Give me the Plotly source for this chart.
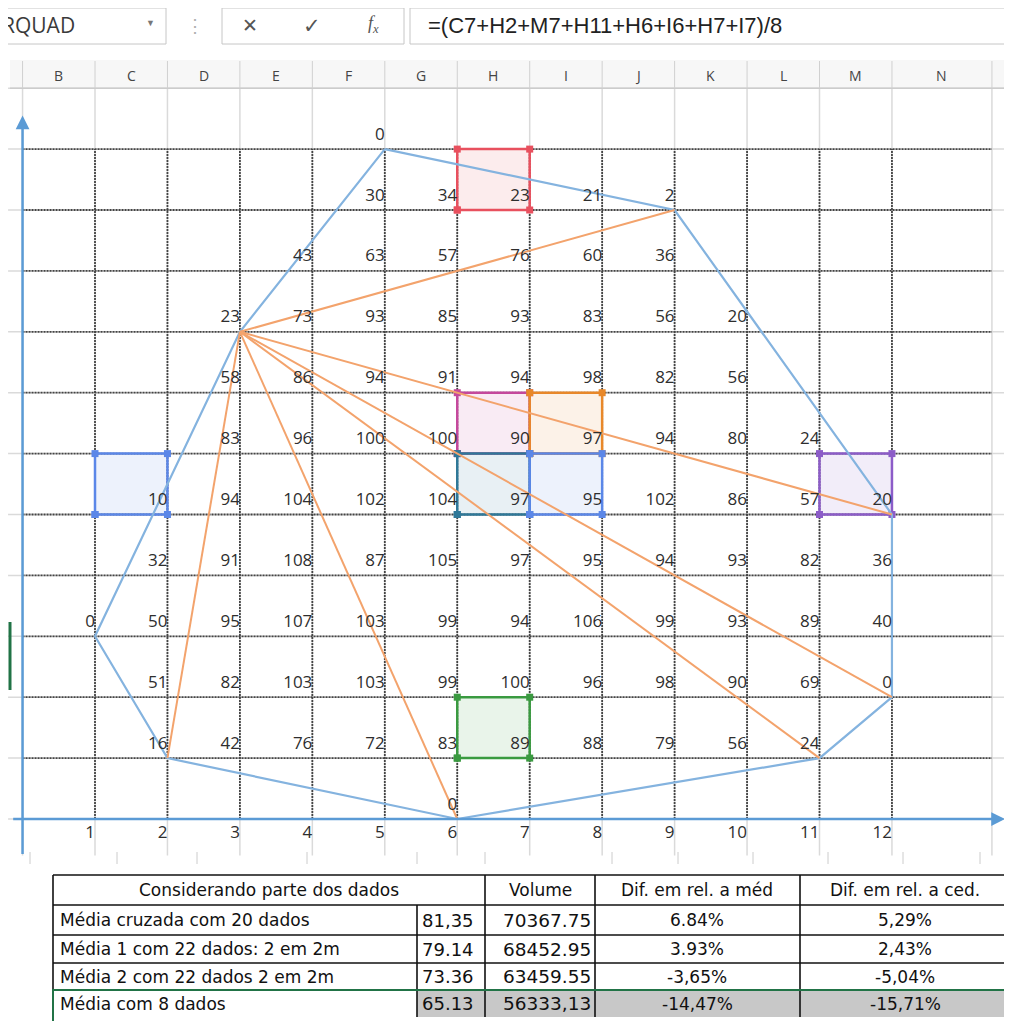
import re
import plotly.graph_objects as go

# the page body has an 8px margin, so the figure is drawn 8px smaller
OFF = 8
W, H = 1012 - OFF, 1021 - OFF
X_RANGE = [-0.2008, 13.657]
Y_RANGE = [-3.317, 13.317]
CHART_RIGHT = 13.38  # right border of column N

# ---- values read from the sheet ----
name_box = "RQUAD"
formula = "=(C7+H2+M7+H11+H6+I6+H7+I7)/8"
col_letters = ["B", "C", "D", "E", "F", "G", "H", "I", "J", "K", "L", "M", "N"]
x_ticks = [1, 2, 3, 4, 5, 6, 7, 8, 9, 10, 11, 12]
y_lines = [1, 2, 3, 4, 5, 6, 7, 8, 9, 10, 11]

# rows 1..12, columns B..M (None = empty cell)
N = None
cells = [
    [N, N, N, N, 0, N, N, N, N, N, N, N],
    [N, N, N, N, 30, 34, 23, 21, 2, N, N, N],
    [N, N, N, 43, 63, 57, 76, 60, 36, N, N, N],
    [N, N, 23, 73, 93, 85, 93, 83, 56, 20, N, N],
    [N, N, 58, 86, 94, 91, 94, 98, 82, 56, N, N],
    [N, N, 83, 96, 100, 100, 90, 97, 94, 80, 24, N],
    [N, 10, 94, 104, 102, 104, 97, 95, 102, 86, 57, 20],
    [N, 32, 91, 108, 87, 105, 97, 95, 94, 93, 82, 36],
    [0, 50, 95, 107, 103, 99, 94, 106, 99, 93, 89, 40],
    [N, 51, 82, 103, 103, 99, 100, 96, 98, 90, 69, 0],
    [N, 16, 42, 76, 72, 83, 89, 88, 79, 56, 24, N],
    [N, N, N, N, N, 0, N, N, N, N, N, N],
]

# perimeter (blue) and sight lines from the station (orange)
perimeter_x = [5, 9, 12, 12, 11, 6, 2, 1, 3, 5]
perimeter_y = [11, 10, 5, 2, 1, 0, 1, 3, 8, 11]
station_x, station_y = 3, 8
targets_x = [9, 12, 12, 11, 6, 2]
targets_y = [10, 5, 2, 1, 0, 1]

# formula reference colours, in formula order
ref_colors = ["#5B87E8", "#E8505E", "#8C5CC8", "#3A9A40",
              "#C4489C", "#E8882A", "#2F7898", "#5B87E8"]

# summary table
table_title = "Considerando parte dos dados"
table_cols = ["Volume", "Dif. em rel. a méd", "Dif. em rel. a ced."]
table_labels = ["Média cruzada com 20 dados", "Média 1 com 22 dados: 2 em 2m",
                "Média 2 com 22 dados 2 em 2m", "Média com 8 dados"]
table_means = ["81,35", "79.14", "73.36", "65.13"]
table_volumes = ["70367.75", "68452.95", "63459.55", "56333,13"]
table_dif_med = ["6.84%", "3.93%", "-3,65%", "-14,47%"]
table_dif_ced = ["5,29%", "2,43%", "-5,04%", "-15,71%"]

blue_axis = "#5B9BD5"
blue_poly = "#84B3DF"
orange = "#F3A36C"
num_font = dict(family="Open Sans", size=17, color="#2E2E2E")


def segs(pairs):
    xs, ys = [], []
    for xa, ya, xb, yb in pairs:
        xs += [xa, xb, None]
        ys += [ya, yb, None]
    return xs, ys


def rgba(hex_color, a):
    h = hex_color.lstrip("#")
    return "rgba(%d,%d,%d,%s)" % (int(h[0:2], 16), int(h[2:4], 16), int(h[4:6], 16), a)


# page pixel -> paper fraction
def px(x):
    return (x - OFF) / W


def py(y):
    return 1 - (y - OFF) / H


fig = go.Figure()
shapes = []
annotations = []

# excel light grid
col_borders = list(range(0, 13)) + [CHART_RIGHT]
gx, gy = segs([(c, -0.6, c, 12) for c in col_borders] +
              [(-0.2, r, X_RANGE[1], r) for r in range(0, 13)])
fig.add_trace(go.Scatter(x=gx, y=gy, mode="lines",
                         line=dict(color="#DADADA", width=1.5), hoverinfo="skip"))

# chart dotted gridlines
dx, dy = segs([(0, v, CHART_RIGHT, v) for v in y_lines] +
              [(v, 0, v, 11) for v in x_ticks])
fig.add_trace(go.Scatter(x=dx, y=dy, mode="lines",
                         line=dict(color="#444444", width=1.8, dash="2px,1px"),
                         hoverinfo="skip"))

# formula reference highlights
refs = re.findall(r"([A-Z]+)(\d+)", formula)
for (letter, row), color in zip(refs, ref_colors):
    i = col_letters.index(letter)
    r = int(row)
    x0, x1, y0, y1 = i, i + 1, 12 - r, 13 - r
    shapes.append(dict(type="rect", xref="x", yref="y", x0=x0, x1=x1, y0=y0, y1=y1,
                       fillcolor=rgba(color, 0.11), line=dict(width=0), layer="below"))
    fig.add_trace(go.Scatter(x=[x0, x1, x1, x0, x0], y=[y0, y0, y1, y1, y0],
                             mode="lines+markers",
                             line=dict(color=color, width=2.5),
                             marker=dict(symbol="square", size=7, color=color),
                             hoverinfo="skip"))

# perimeter
fig.add_trace(go.Scatter(x=perimeter_x, y=perimeter_y, mode="lines",
                         line=dict(color=blue_poly, width=2.2), hoverinfo="skip"))

# sight lines
ox, oy = segs([(station_x, station_y, tx, ty) for tx, ty in zip(targets_x, targets_y)])
fig.add_trace(go.Scatter(x=ox, y=oy, mode="lines",
                         line=dict(color=orange, width=2), hoverinfo="skip"))

# cell values (right aligned near the bottom of each cell)
tx, ty, tt = [], [], []
for r, row in enumerate(cells, start=1):
    for i, v in enumerate(row):
        if v is None:
            continue
        tx.append(i + 1)
        ty.append(12 - r + 0.225)
        tt.append(str(v))
fig.add_trace(go.Scatter(x=tx, y=ty, text=tt, mode="text", textposition="middle left",
                         textfont=num_font, marker=dict(size=2),
                         cliponaxis=False, hoverinfo="skip"))

# x labels
fig.add_trace(go.Scatter(x=x_ticks, y=[-0.245] * len(x_ticks),
                         text=[str(v) for v in x_ticks], mode="text",
                         textposition="middle left", textfont=num_font,
                         marker=dict(size=2), cliponaxis=False, hoverinfo="skip"))

# axes with arrows
annotations.append(dict(x=13.56, y=0, ax=-0.15, ay=0, xref="x", yref="y", axref="x", ayref="y",
                        text="", showarrow=True, arrowhead=2, arrowsize=1.1, arrowwidth=2.5,
                        arrowcolor=blue_axis, standoff=0, startstandoff=0))
annotations.append(dict(x=0, y=11.55, ax=0, ay=-0.6, xref="x", yref="y", axref="x", ayref="y",
                        text="", showarrow=True, arrowhead=2, arrowsize=1.1, arrowwidth=2.5,
                        arrowcolor=blue_axis, standoff=0, startstandoff=0))

# ---- excel chrome: name box / formula bar ----
bar_line = dict(color="#C6C6C6", width=1)
shapes.append(dict(type="rect", xref="paper", yref="paper", x0=px(0), x1=px(166),
                   y0=py(44), y1=py(8), line=bar_line, fillcolor="white"))
shapes.append(dict(type="rect", xref="paper", yref="paper", x0=px(222), x1=px(404),
                   y0=py(44), y1=py(8), line=bar_line, fillcolor="white"))
shapes.append(dict(type="rect", xref="paper", yref="paper", x0=px(410), x1=px(1015),
                   y0=py(44), y1=py(8), line=bar_line, fillcolor="white"))


def label(x, y, text, size=17, color="#333333", anchor="left", family="Open Sans"):
    annotations.append(dict(x=px(x), y=py(y), xref="paper", yref="paper", text=text,
                            showarrow=False, xanchor=anchor, yanchor="middle",
                            font=dict(family=family, size=size, color=color)))


label(0, 25, name_box, size=21, color="#3a3a3a")
label(150, 23, "▼", size=9, color="#777777", anchor="center")
label(195, 25, "⋮", size=18, color="#B0B0B0", anchor="center")
label(250, 25, "✕", size=19, color="#555555", anchor="center")
label(312, 25, "✓", size=21, color="#555555", anchor="center")
label(373, 24, "<i>f<sub>x</sub></i>", size=18, color="#555555", anchor="center",
      family="Liberation Serif")
label(426, 25, formula, size=22, color="#222222", family="Liberation Sans")

# column header band
shapes.append(dict(type="rect", xref="paper", yref="paper", x0=px(10), x1=px(1015),
                   y0=py(88), y1=py(60), line=dict(width=0), fillcolor="#F7F7F7"))
shapes.append(dict(type="line", xref="paper", yref="paper", x0=px(10), x1=px(1015),
                   y0=py(88), y1=py(88), line=dict(color="#BDBDBD", width=1.2)))
for c in col_borders:
    shapes.append(dict(type="line", xref="x", yref="paper", x0=c, x1=c,
                       y0=py(88), y1=py(61), line=dict(color="#D0D0D0", width=1)))
for i, letter in enumerate(col_letters):
    cx = i + 0.5 if i < 12 else (12 + CHART_RIGHT) / 2
    annotations.append(dict(x=cx, y=py(75), xref="x", yref="paper", text=letter,
                            showarrow=False, xanchor="center", yanchor="middle",
                            font=dict(family="Open Sans", size=14, color="#444444")))

# selection mark on row headers
shapes.append(dict(type="line", xref="paper", yref="paper", x0=px(10), x1=px(10),
                   y0=py(690), y1=py(622), line=dict(color="#217346", width=3)))

# faint ticks under the chart
for t in [30, 117, 197, 307, 417, 485, 612, 678, 753, 828, 903, 980]:
    shapes.append(dict(type="line", xref="paper", yref="paper", x0=px(t), x1=px(t),
                       y0=py(864), y1=py(852), line=dict(color="#CCCCCC", width=1)))

# ---- summary table ----
rows_y = [875, 905, 935, 963, 990, 1017]
cols_x = [53, 417, 485, 595, 800, 1010]
black = dict(color="#111111", width=1.6)
shapes.append(dict(type="rect", xref="paper", yref="paper", x0=px(417), x1=px(1010),
                   y0=py(1017), y1=py(990), line=dict(width=0), fillcolor="#C8C8C8"))
for yy in rows_y[:-2]:
    shapes.append(dict(type="line", xref="paper", yref="paper", x0=px(53), x1=px(1010),
                       y0=py(yy), y1=py(yy), line=black))
for xx in cols_x:
    top = rows_y[1] if xx == 417 else rows_y[0]
    shapes.append(dict(type="line", xref="paper", yref="paper", x0=px(xx), x1=px(xx),
                       y0=py(1017), y1=py(top), line=black))
shapes.append(dict(type="rect", xref="paper", yref="paper", x0=px(53), x1=px(1010),
                   y0=py(1022), y1=py(990), line=dict(color="#217346", width=2)))

tfont = "DejaVu Sans"
label(269, 890, table_title, size=17, color="#111111", anchor="center", family=tfont)
for name, cx in zip(table_cols, [540, 697, 905]):
    label(cx, 890, name, size=17, color="#111111", anchor="center", family=tfont)
for k in range(4):
    yc = (rows_y[k + 1] + rows_y[k + 2]) / 2
    label(58, yc, table_labels[k], size=17, color="#111111", family=tfont)
    label(420, yc, table_means[k], size=18, color="#111111", family=tfont)
    label(593, yc, table_volumes[k], size=18.5, color="#111111", anchor="right", family=tfont)
    label(697, yc, table_dif_med[k], size=17, color="#111111", anchor="center", family=tfont)
    label(905, yc, table_dif_ced[k], size=17, color="#111111", anchor="center", family=tfont)

fig.update_layout(
    width=W, height=H,
    margin=dict(l=0, r=0, t=0, b=0, pad=0),
    paper_bgcolor="white", plot_bgcolor="white",
    showlegend=False, hovermode=False,
    xaxis=dict(range=X_RANGE, visible=False, fixedrange=True),
    yaxis=dict(range=Y_RANGE, visible=False, fixedrange=True),
    shapes=shapes, annotations=annotations,
)

fig.write_html("out.html")
